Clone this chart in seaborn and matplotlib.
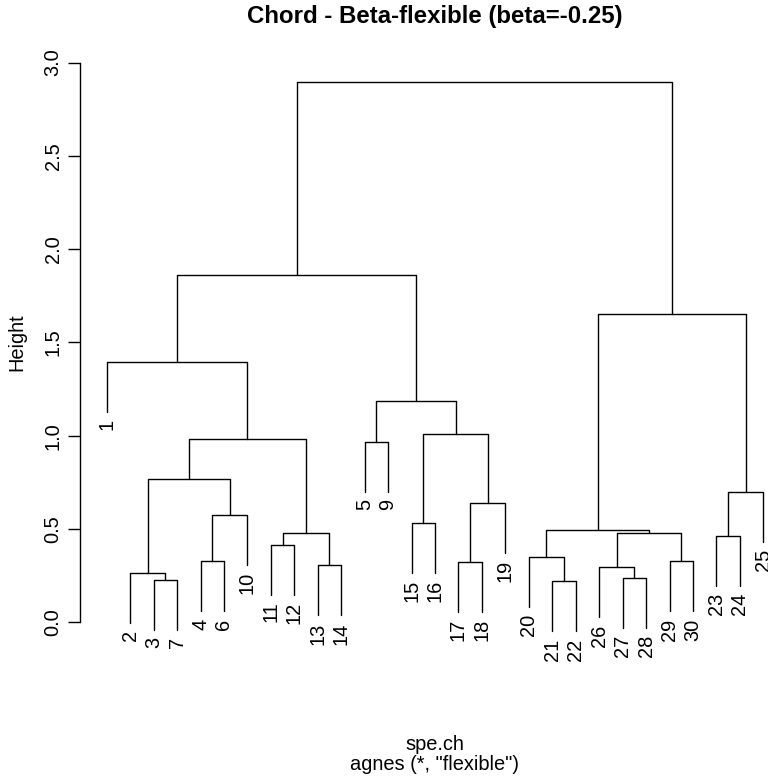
import matplotlib
matplotlib.use("Agg")
import matplotlib.pyplot as plt
import pandas as pd
import seaborn as sns

# Sites in the order they appear along the x axis
leaf_order = [1, 2, 3, 7, 4, 6, 10, 11, 12, 13, 14, 5, 9, 15, 16, 17, 18, 19,
              20, 21, 22, 26, 27, 28, 29, 30, 23, 24, 25]

# Agglomeration steps (hclust style): negative = site, positive = earlier step (1-based)
merge_left = [-3, -2, -4, 3, 2, -11, -13, 6, 5, -1, -5, -15, -17, 13, 12, 11, 10,
              -21, -20, -27, -26, -29, 21, 19, -23, 25, 24, 17]
merge_right = [-7, 1, -6, -10, 4, -12, -14, 7, 8, 9, -9, -16, -18, -19, 14, 15, 16,
               -22, 18, -28, 20, -30, 22, 23, -24, -25, 26, 27]
merge_height = [0.228, 0.264, 0.326, 0.576, 0.770, 0.416, 0.305, 0.478, 0.982, 1.396,
                0.968, 0.532, 0.325, 0.638, 1.007, 1.187, 1.863,
                0.219, 0.350, 0.237, 0.294, 0.326, 0.480, 0.494, 0.465, 0.697, 1.651, 2.898]

y_ticks = [0.0, 0.5, 1.0, 1.5, 2.0, 2.5, 3.0]
y_tick_labels = ["0.0", "0.5", "1.0", "1.5", "2.0", "2.5", "3.0"]

title = "Chord - Beta-flexible (beta=-0.25)"
x_label = "spe.ch"
sub_label = 'agnes (*, "flexible")'

# ---- dendrogram geometry --------------------------------------------------
hang = 0.1 * (max(merge_height) - min(merge_height))
leaf_x = {site: i + 1 for i, site in enumerate(leaf_order)}
step_x = {}

def child_xy(node, h):
    """x position and lower end of the vertical line for a child of a merge."""
    if node < 0:
        return leaf_x[-node], h - hang
    return step_x[node], merge_height[node - 1]

rows = []
leaf_bottom = {}
for k, (a, b, h) in enumerate(zip(merge_left, merge_right, merge_height), start=1):
    xa, ya = child_xy(a, h)
    xb, yb = child_xy(b, h)
    for node, yy in ((a, ya), (b, yb)):
        if node < 0:
            leaf_bottom[-node] = yy
    step_x[k] = (xa + xb) / 2
    rows += [(k, xa, ya), (k, xa, h), (k, xb, h), (k, xb, yb)]

segments = pd.DataFrame(rows, columns=["step", "x", "y"])

# ---- figure ---------------------------------------------------------------
sns.set_style("white")
plt.rcParams["font.family"] = ["Liberation Sans", "DejaVu Sans"]
plt.rcParams["text.color"] = "black"
plt.rcParams["ytick.color"] = "black"
plt.rcParams["axes.labelcolor"] = "black"
base = 14.4

fig = plt.figure(figsize=(7.68, 7.77), dpi=100)
ax = fig.add_axes([80 / 768, 1 - 650 / 777, 688 / 768, 610 / 777])

sns.lineplot(data=segments, x="x", y="y", units="step", estimator=None,
             sort=False, color="black", linewidth=1.0, ax=ax, legend=False)

for site in leaf_order:
    ax.annotate(str(site), xy=(leaf_x[site], leaf_bottom[site]),
                xytext=(0, -5), textcoords="offset points",
                rotation=90, ha="center", va="top", fontsize=base,
                color="black", annotation_clip=False)

ax.set_xlim(-0.139, 29.2)
ax.set_ylim(-0.1484, 3.1206)
ax.set_xticks([])
ax.set_xlabel("")
for s in ("top", "right", "bottom"):
    ax.spines[s].set_visible(False)
ax.spines["left"].set_bounds(0, 3)
ax.spines["left"].set_color("black")
ax.spines["left"].set_linewidth(1.0)

ax.set_yticks(y_ticks)
ax.set_yticklabels(y_tick_labels)
ax.tick_params(axis="y", direction="out", length=8.6, width=1.0, color="black",
               labelcolor="black", pad=4, labelsize=base, labelrotation=90, left=True)
for lab in ax.get_yticklabels():
    lab.set_va("center")

ax.set_ylabel("Height", fontsize=base, va="center", color="black")
ax.yaxis.set_label_coords((16.7 - 80) / 688, (650 - 341.7) / 610)

fig.text(434.5 / 768, 1 - 17 / 777, title, ha="center", va="center",
         fontsize=17.3, fontweight="bold", color="black")
fig.text(434.5 / 768, 1 - 744 / 777, x_label, ha="center", va="center",
         fontsize=base, color="black")
fig.text(434.5 / 768, 1 - 765 / 777, sub_label, ha="center", va="center",
         fontsize=base, color="black")

fig.savefig("out.png", dpi=100, facecolor="white")
